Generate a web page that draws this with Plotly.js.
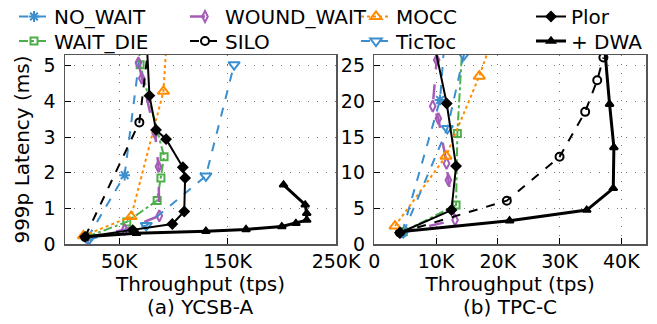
<!DOCTYPE html>
<html><head><meta charset="utf-8">
<script src="https://cdn.plot.ly/plotly-3.0.1.min.js"></script>
<style>html,body{margin:0;padding:0;background:#fff}#chart{width:657px;height:324px}</style>
</head><body><div id="chart"></div><script>
// ---- data (throughput in K tps, latency in ms) ----
const seriesNames = ['NO_WAIT','WAIT_DIE','WOUND_WAIT','SILO','MOCC','TicToc','Plor','+ DWA'];

// (a) YCSB-A
const ycsbNoWaitX = [21, 55, 74];
const ycsbNoWaitY = [0.18, 1.93, 6.5];
const ycsbWaitDieX = [20, 57, 85, 88.5, 91.4, 69.3, 66];
const ycsbWaitDieY = [0.2, 0.62, 1.22, 1.85, 2.45, 5.03, 6.5];
const ycsbWoundWaitX = [20, 55, 87, 86.2, 83.1, 70.8, 67.7, 65];
const ycsbWoundWaitY = [0.18, 0.4, 0.79, 2.17, 3.11, 4.65, 5.08, 6.5];
const ycsbSiloX = [18.5, 68.6, 78];
const ycsbSiloY = [0.2, 3.41, 5.8];
const ycsbMoccX = [17, 61, 90.8, 95.4];
const ycsbMoccY = [0.23, 0.77, 4.28, 6.5];
const ycsbTicTocX = [22, 75, 130, 156];
const ycsbTicTocY = [0.13, 0.52, 1.91, 5.03];
const ycsbPlorX = [18.5, 62.5, 99, 110, 110.8, 108.7, 93.3, 84, 77.9, 74];
const ycsbPlorY = [0.2, 0.39, 0.56, 0.91, 1.85, 2.15, 2.94, 3.2, 4.16, 6.5];
const ycsbDwaX = [18.5, 66, 130, 167, 200, 213, 223, 223, 221.6, 201.6];
const ycsbDwaY = [0.2, 0.3, 0.36, 0.41, 0.49, 0.58, 0.67, 0.86, 1.1, 1.66];

// (b) TPC-C
const tpccNoWaitX = [4.5, 10.65, 11.5];
const tpccNoWaitY = [1.6, 20.2, 30];
const tpccWaitDieX = [4.7, 13.24, 13.45, 14.4];
const tpccWaitDieY = [1.72, 5.46, 15.5, 30];
const tpccWoundWaitX = [4.15, 13.08, 12.0, 11.7, 10.37, 9.46, 10.1, 10];
const tpccWoundWaitY = [1.58, 3.36, 8.96, 11.3, 17.6, 19.33, 25.8, 29];
const tpccSiloX = [4.15, 21.46, 30, 34.15, 36.1, 37.1];
const tpccSiloY = [1.58, 6.07, 12.23, 18.53, 22.97, 26.15];
const tpccMoccX = [3.35, 11.62, 17.0, 18.8];
const tpccMoccY = [2.52, 12.32, 23.53, 28];
const tpccTicTocX = [4.7, 11.83, 14.5, 15];
const tpccTicTocY = [1.58, 16.2, 26.5, 30];
const tpccPlorX = [4.15, 12.5, 13.24, 11.73, 9.6];
const tpccPlorY = [1.58, 4.76, 10.92, 19.7, 28.5];
const tpccDwaX = [4.15, 21.9, 34.4, 38.7, 38.8, 38.1, 37.2];
const tpccDwaY = [1.72, 3.26, 4.76, 7.8, 13.54, 19.6, 28.5];

// tick labels
const ycsbXTickVals = [50, 150, 250];
const ycsbXTickText = ['50K', '150K', '250K'];
const ycsbYTickVals = [0, 1, 2, 3, 4, 5];
const tpccXTickVals = [0, 10, 20, 30, 40];
const tpccXTickText = ['0', '10K', '20K', '30K', '40K'];
const tpccYTickVals = [0, 5, 10, 15, 20, 25];
const subTitles = ['(a) YCSB-A', '(b) TPC-C'];

// ---- styles ----
const BLUE = '#3b8fcf', GREEN = '#4daf4a', PURPLE = '#a45cb6', ORANGE = '#ff8c00';
// legend slot: [column, row]
const styles = {
  'NO_WAIT':    {color: BLUE,   dash: 'dash',     width: 2, symbol: 'asterisk-open', size: 9, slot: [0, 0]},
  'WAIT_DIE':   {color: GREEN,  dash: 'dashdot',  width: 2, symbol: 'square-open', size: 7, slot: [0, 1]},
  'WOUND_WAIT': {color: PURPLE, dash: 'longdash', width: 2.5, symbol: 'diamond-tall-open', size: 8, slot: [1, 0]},
  'SILO':       {color: '#000', dash: 'dash',     width: 2, symbol: 'circle-open', size: 8, slot: [1, 1]},
  'MOCC':       {color: ORANGE, dash: 'dot',      width: 2, symbol: 'triangle-up-open', size: 10, slot: [2, 0]},
  'TicToc':     {color: BLUE,   dash: 'dash',     width: 2, symbol: 'triangle-down-open', size: 10, slot: [2, 1]},
  'Plor':       {color: '#000', dash: 'solid',    width: 2, symbol: 'diamond', size: 7, slot: [3, 0]},
  '+ DWA':      {color: '#000', dash: 'solid',    width: 3, symbol: 'triangle-up', size: 7, slot: [3, 1]}
};
const ycsbData = {
  'NO_WAIT': [ycsbNoWaitX, ycsbNoWaitY], 'WAIT_DIE': [ycsbWaitDieX, ycsbWaitDieY],
  'WOUND_WAIT': [ycsbWoundWaitX, ycsbWoundWaitY], 'SILO': [ycsbSiloX, ycsbSiloY],
  'MOCC': [ycsbMoccX, ycsbMoccY], 'TicToc': [ycsbTicTocX, ycsbTicTocY],
  'Plor': [ycsbPlorX, ycsbPlorY], '+ DWA': [ycsbDwaX, ycsbDwaY]
};
const tpccData = {
  'NO_WAIT': [tpccNoWaitX, tpccNoWaitY], 'WAIT_DIE': [tpccWaitDieX, tpccWaitDieY],
  'WOUND_WAIT': [tpccWoundWaitX, tpccWoundWaitY], 'SILO': [tpccSiloX, tpccSiloY],
  'MOCC': [tpccMoccX, tpccMoccY], 'TicToc': [tpccTicTocX, tpccTicTocY],
  'Plor': [tpccPlorX, tpccPlorY], '+ DWA': [tpccDwaX, tpccDwaY]
};

const FONT = 'DejaVu Sans, Verdana, sans-serif';
const W = 657, H = 324;
function px(v) { return v / W; }
function py(v) { return 1 - v / H; }

const legendColX = [14, 185, 356, 531];
const legendRowTop = [-3, 21.5];

const traces = [];
const legends = {};
seriesNames.forEach(function(name, i) {
  const s = styles[name];
  const legId = i === 0 ? 'legend' : 'legend' + (i + 1);
  legends[legId] = {
    orientation: 'v', x: px(legendColX[s.slot[0]]), xanchor: 'left',
    y: py(legendRowTop[s.slot[1]]), yanchor: 'top', itemwidth: 30,
    font: {family: FONT, size: 20, color: '#000'}, bgcolor: 'rgba(0,0,0,0)', borderwidth: 0
  };
  [[ycsbData, 'x', 'y', true], [tpccData, 'x2', 'y2', false]].forEach(function(p) {
    traces.push({
      type: 'scatter', mode: 'lines+markers', name: name, legend: legId,
      x: p[0][name][0], y: p[0][name][1], xaxis: p[1], yaxis: p[2],
      showlegend: p[3], cliponaxis: true,
      line: {color: s.color, dash: s.dash, width: s.width},
      marker: {symbol: s.symbol, size: s.size, color: s.color, line: {color: s.color, width: 2}}
    });
  });
});

const axisCommon = {
  showline: true, mirror: true, linecolor: '#555', linewidth: 1.5,
  ticks: 'inside', ticklen: 6, tickwidth: 1, tickcolor: '#000',
  showgrid: true, gridcolor: '#777', griddash: '1px,8px', gridwidth: 1,
  zeroline: false, tickfont: {family: FONT, size: 19, color: '#000'},
  fixedrange: true
};
const layout = Object.assign({
  width: W, height: H,
  margin: {l: 0, r: 0, t: 0, b: 0, autoexpand: false},
  paper_bgcolor: '#fff', plot_bgcolor: '#fff',
  font: {family: FONT, size: 20, color: '#000'},
  showlegend: true,
  xaxis: Object.assign({}, axisCommon, {domain: [px(65), px(336)], range: [0, 250],
           tickmode: 'array', tickvals: ycsbXTickVals, ticktext: ycsbXTickText, ticklabelstandoff: 0,
           title: {text: 'Throughput (tps)', font: {family: FONT, size: 20}, standoff: 2}, anchor: 'y'}),
  yaxis: Object.assign({}, axisCommon, {domain: [py(244), py(55)], range: [0, 5.3],
           tickmode: 'array', tickvals: ycsbYTickVals, ticklabelstandoff: 4,
           title: {text: '999p Latency (ms)', font: {family: FONT, size: 20}, standoff: 8}, anchor: 'x'}),
  xaxis2: Object.assign({}, axisCommon, {domain: [px(374.3), px(646)], range: [0, 44],
           tickmode: 'array', tickvals: tpccXTickVals, ticktext: tpccXTickText, ticklabelstandoff: 0,
           title: {text: 'Throughput (tps)', font: {family: FONT, size: 20}, standoff: 2}, anchor: 'y2'}),
  yaxis2: Object.assign({}, axisCommon, {domain: [py(244), py(55)], range: [0, 26.5],
           tickmode: 'array', tickvals: tpccYTickVals, ticklabelstandoff: 4, anchor: 'x2'}),
  annotations: [
    {text: subTitles[0], xref: 'paper', yref: 'paper', x: px(200), y: py(307), xanchor: 'center', yanchor: 'middle',
     showarrow: false, font: {family: FONT, size: 20, color: '#000'}},
    {text: subTitles[1], xref: 'paper', yref: 'paper', x: px(510), y: py(307), xanchor: 'center', yanchor: 'middle',
     showarrow: false, font: {family: FONT, size: 20, color: '#000'}}
  ]
}, legends);
Plotly.newPlot('chart', traces, layout, {staticPlot: true, displayModeBar: false});
</script></body></html>
